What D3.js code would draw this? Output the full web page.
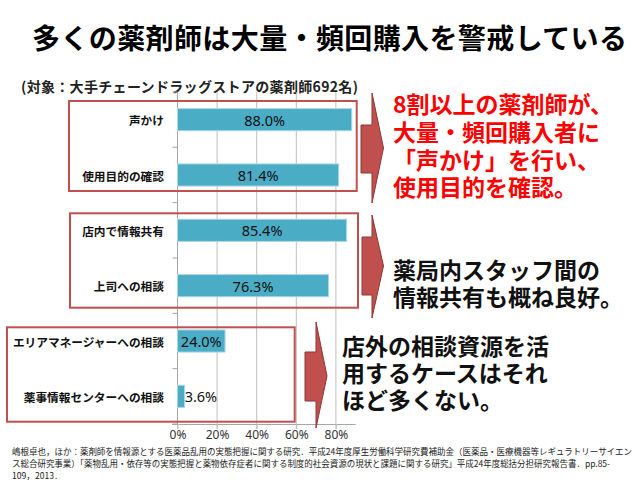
<!DOCTYPE html>
<html><head><meta charset="utf-8">
<script src="https://cdn.jsdelivr.net/npm/d3@7"></script>
<style>html,body{margin:0;padding:0;background:#fff;}</style>
</head><body>
<svg id="c" width="640" height="480"></svg>
<script>
// ---- data ----
const categories = ["声かけ","使用目的の確認","店内で情報共有","上司への相談","エリアマネージャーへの相談","薬事情報センターへの相談"];
const values = [88.0, 81.4, 85.4, 76.3, 24.0, 3.6];
const tickValues = [0, 20, 40, 60, 80];
const tickLabels = ["0%","20%","40%","60%","80%"];
const title = "多くの薬剤師は大量・頻回購入を警戒している";
const subtitle = "(対象：大手チェーンドラッグストアの薬剤師692名)";
const note1 = ["8割以上の薬剤師が、","大量・頻回購入者に","「声かけ」を行い、","使用目的を確認。"];
const note2 = ["薬局内スタッフ間の","情報共有も概ね良好。"];
const note3 = ["店外の相談資源を活","用するケースはそれ","ほど多くない。"];
const footnote = [
 "嶋根卓也，ほか：薬剤師を情報源とする医薬品乱用の実態把握に関する研究．平成24年度厚生労働科学研究費補助金（医薬品・医療機器等レギュラトリーサイエン",
 "ス総合研究事業）「薬物乱用・依存等の実態把握と薬物依存症者に関する制度的社会資源の現状と課題に関する研究」平成24年度総括分担研究報告書．pp.85-",
 "109，2013．"
];

const JP = "'Noto Sans CJK JP','Noto Sans',sans-serif";
const svg = d3.select("#c");

// title
svg.append("text").attr("x",32).attr("y",37).attr("dominant-baseline","central")
  .attr("font-family",JP).attr("font-weight","bold").attr("font-size",28)
  .attr("textLength",595).attr("lengthAdjust","spacing").attr("fill","#000").text(title);
svg.append("text").attr("x",21).attr("y",86).attr("dominant-baseline","central")
  .attr("font-family",JP).attr("font-weight","bold").attr("font-size",14)
  .attr("textLength",337).attr("lengthAdjust","spacing").attr("fill","#222").text(subtitle);

// scales
const x = d3.scaleLinear().domain([0, 90]).range([177.5, 355.7]);
const y = d3.scaleBand().domain(categories).range([92, 424]).paddingInner(0.6).paddingOuter(0.3);

// gridlines
svg.append("g").selectAll("line").data(tickValues).join("line")
  .attr("x1",d=>x(d)).attr("x2",d=>x(d)).attr("y1",92).attr("y2",429)
  .attr("stroke","#BFBFBF").attr("stroke-width",1);

// x axis
const xAxis = svg.append("g").attr("transform","translate(0,424)")
  .call(d3.axisBottom(x).tickValues(tickValues).tickFormat((d,i)=>tickLabels[i]).tickSize(5).tickSizeOuter(0));
xAxis.select(".domain").attr("stroke","#A6A6A6").attr("d","M172,0.5H355.7");
xAxis.selectAll(".tick line").attr("stroke","#BFBFBF");
xAxis.selectAll(".tick text").attr("font-family","'Noto Sans',sans-serif").attr("font-size",12).attr("fill","#333").attr("dy","0.6em");

// y axis
const step = y.step();
const yAxisG = svg.append("g").attr("transform","translate(177.5,0)");
yAxisG.append("line").attr("x1",0).attr("x2",0).attr("y1",92).attr("y2",424).attr("stroke","#A6A6A6");
yAxisG.selectAll("line.tk").data(d3.range(categories.length+1)).join("line").attr("class","tk")
  .attr("x1",-5).attr("x2",0).attr("y1",i=>92+i*step).attr("y2",i=>92+i*step).attr("stroke","#A6A6A6");
svg.append("g").selectAll("text").data(categories).join("text")
  .attr("x",164).attr("y",d=>y(d)+y.bandwidth()/2).attr("text-anchor","end").attr("dominant-baseline","central")
  .attr("font-family",JP).attr("font-weight","bold").attr("font-size",11.7).attr("fill","#111").text(d=>d);

// bars
svg.append("g").selectAll("rect").data(values).join("rect")
  .attr("x",x(0)).attr("y",(d,i)=>y(categories[i])).attr("width",d=>x(d)-x(0)).attr("height",y.bandwidth())
  .attr("fill","#4BACC6").attr("stroke","#A8D8E6").attr("stroke-width",1);

// value labels
svg.append("g").selectAll("text").data(values).join("text")
  .attr("x",d=> d>10 ? (x(0)+x(d))/2 : x(d))
  .attr("text-anchor",d=> d>10 ? "middle" : "start")
  .attr("y",(d,i)=>y(categories[i])+y.bandwidth()/2).attr("dominant-baseline","central")
  .attr("font-family","'Noto Sans',sans-serif").attr("font-size",14.5).attr("fill","#111")
  .text(d=>d.toFixed(1)+"%");

// red group boxes
const boxes = [[69,101,356.7,191],[70,213.3,358,307.7],[7,327.3,294.7,421.7]];
svg.append("g").selectAll("rect").data(boxes).join("rect")
  .attr("x",b=>b[0]).attr("y",b=>b[1]).attr("width",b=>b[2]-b[0]).attr("height",b=>b[3]-b[1])
  .attr("fill","none").attr("stroke","#C0504D").attr("stroke-width",2);

// arrows  [shaftLeft, headBase, shaftTop, shaftBottom, headTop, headBottom, tipX, tipY]
const arrows = [[361,372,125,173,93,203,383.5,148],[362,372,237,295,215,318,383.5,266],[305,316,352,401,322,428,327,376]];
svg.append("g").selectAll("path").data(arrows).join("path")
  .attr("d",a=>`M${a[0]},${a[2]}H${a[1]}V${a[4]}L${a[6]},${a[7]}L${a[1]},${a[5]}V${a[3]}H${a[0]}Z`)
  .attr("fill","#C0504D").attr("stroke","#8C3836").attr("stroke-width",1);

// notes
function block(lines, x0, y0, dy, color){
  svg.append("g").selectAll("text").data(lines).join("text")
    .attr("x",x0).attr("y",(d,i)=>y0+i*dy).attr("dominant-baseline","central")
    .attr("font-family",JP).attr("font-weight","bold").attr("font-size",23).attr("fill",color).text(d=>d);
}
block(note1, 393, 103, 27.8, "#FF0000");
block(note2, 393, 269, 26.7, "#111");
block(note3, 342, 345, 27, "#111");

// footnote
const fnLen = [620, 598, null];
svg.append("g").selectAll("text").data(footnote).join("text")
  .attr("x",12).attr("y",(d,i)=>451+i*12).attr("dominant-baseline","central")
  .attr("font-family",JP).attr("font-size",8.6).attr("fill","#222")
  .each(function(d,i){ if(fnLen[i]) d3.select(this).attr("textLength",fnLen[i]).attr("lengthAdjust","spacingAndGlyphs"); })
  .text(d=>d);
</script>
</body></html>
